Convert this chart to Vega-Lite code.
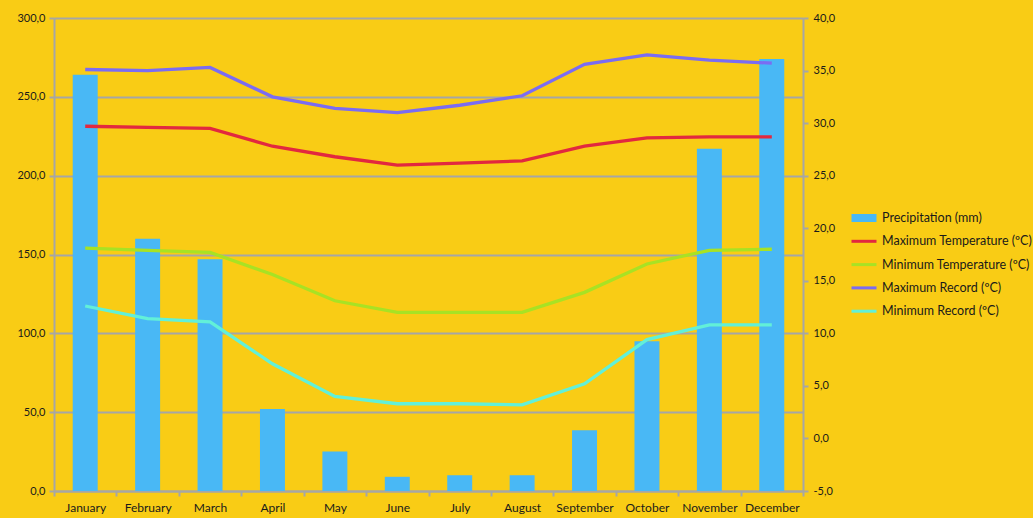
{
  "$schema": "https://vega.github.io/schema/vega-lite/v6.json",
  "width": 749,
  "height": 473,
  "autosize": {"type": "none"},
  "padding": {"left": 54, "top": 18, "right": 230, "bottom": 27},
  "background": "#F9CC15",
  "config": {
    "view": {"stroke": null},
    "font": "Lato",
    "legend": {"title": null},
    "axis": {
      "labelColor": "#1a1a1a",
      "labelFontSize": 11,
      "domainColor": "#A6A6A6",
      "domainWidth": 2,
      "tickColor": "#A6A6A6",
      "tickWidth": 2,
      "tickSize": 5,
      "gridColor": "#A6A6A6",
      "gridWidth": 2,
      "title": null
    }
  },
  "datasets": {
    "precip": [
      {"month": "January", "precip": 264},
      {"month": "February", "precip": 160},
      {"month": "March", "precip": 147},
      {"month": "April", "precip": 52},
      {"month": "May", "precip": 25},
      {"month": "June", "precip": 9},
      {"month": "July", "precip": 10},
      {"month": "August", "precip": 10},
      {"month": "September", "precip": 38.5},
      {"month": "October", "precip": 95},
      {"month": "November", "precip": 217},
      {"month": "December", "precip": 274}
    ],
    "temps": [
      {"month": "January", "series": "Maximum Temperature (ºC)", "temp": 29.7},
      {"month": "February", "series": "Maximum Temperature (ºC)", "temp": 29.6},
      {"month": "March", "series": "Maximum Temperature (ºC)", "temp": 29.5},
      {"month": "April", "series": "Maximum Temperature (ºC)", "temp": 27.8},
      {"month": "May", "series": "Maximum Temperature (ºC)", "temp": 26.8},
      {"month": "June", "series": "Maximum Temperature (ºC)", "temp": 26.0},
      {"month": "July", "series": "Maximum Temperature (ºC)", "temp": 26.2},
      {"month": "August", "series": "Maximum Temperature (ºC)", "temp": 26.4},
      {"month": "September", "series": "Maximum Temperature (ºC)", "temp": 27.8},
      {"month": "October", "series": "Maximum Temperature (ºC)", "temp": 28.6},
      {"month": "November", "series": "Maximum Temperature (ºC)", "temp": 28.7},
      {"month": "December", "series": "Maximum Temperature (ºC)", "temp": 28.7},
      {"month": "January", "series": "Minimum Temperature (ºC)", "temp": 18.1},
      {"month": "February", "series": "Minimum Temperature (ºC)", "temp": 17.9},
      {"month": "March", "series": "Minimum Temperature (ºC)", "temp": 17.7},
      {"month": "April", "series": "Minimum Temperature (ºC)", "temp": 15.6},
      {"month": "May", "series": "Minimum Temperature (ºC)", "temp": 13.1},
      {"month": "June", "series": "Minimum Temperature (ºC)", "temp": 12.0},
      {"month": "July", "series": "Minimum Temperature (ºC)", "temp": 12.0},
      {"month": "August", "series": "Minimum Temperature (ºC)", "temp": 12.0},
      {"month": "September", "series": "Minimum Temperature (ºC)", "temp": 13.9},
      {"month": "October", "series": "Minimum Temperature (ºC)", "temp": 16.6},
      {"month": "November", "series": "Minimum Temperature (ºC)", "temp": 17.9},
      {"month": "December", "series": "Minimum Temperature (ºC)", "temp": 18.0},
      {"month": "January", "series": "Maximum Record (ºC)", "temp": 35.1},
      {"month": "February", "series": "Maximum Record (ºC)", "temp": 35.0},
      {"month": "March", "series": "Maximum Record (ºC)", "temp": 35.3},
      {"month": "April", "series": "Maximum Record (ºC)", "temp": 32.5},
      {"month": "May", "series": "Maximum Record (ºC)", "temp": 31.4},
      {"month": "June", "series": "Maximum Record (ºC)", "temp": 31.0},
      {"month": "July", "series": "Maximum Record (ºC)", "temp": 31.7},
      {"month": "August", "series": "Maximum Record (ºC)", "temp": 32.6},
      {"month": "September", "series": "Maximum Record (ºC)", "temp": 35.6},
      {"month": "October", "series": "Maximum Record (ºC)", "temp": 36.5},
      {"month": "November", "series": "Maximum Record (ºC)", "temp": 36.0},
      {"month": "December", "series": "Maximum Record (ºC)", "temp": 35.7},
      {"month": "January", "series": "Minimum Record (ºC)", "temp": 12.6},
      {"month": "February", "series": "Minimum Record (ºC)", "temp": 11.4},
      {"month": "March", "series": "Minimum Record (ºC)", "temp": 11.1},
      {"month": "April", "series": "Minimum Record (ºC)", "temp": 7.1},
      {"month": "May", "series": "Minimum Record (ºC)", "temp": 4.0},
      {"month": "June", "series": "Minimum Record (ºC)", "temp": 3.3},
      {"month": "July", "series": "Minimum Record (ºC)", "temp": 3.3},
      {"month": "August", "series": "Minimum Record (ºC)", "temp": 3.2},
      {"month": "September", "series": "Minimum Record (ºC)", "temp": 5.2},
      {"month": "October", "series": "Minimum Record (ºC)", "temp": 9.4},
      {"month": "November", "series": "Minimum Record (ºC)", "temp": 10.8},
      {"month": "December", "series": "Minimum Record (ºC)", "temp": 10.8}
    ]
  },
  "encoding": {
    "x": {
      "field": "month",
      "type": "ordinal",
      "sort": ["January", "February", "March", "April", "May", "June", "July", "August", "September", "October", "November", "December"],
      "scale": {"paddingInner": 0, "paddingOuter": 0},
      "axis": {"labelAngle": 0, "tickBand": "extent", "labelPadding": 6, "labelFontSize": 12, "grid": false}
    }
  },
  "layer": [
    {
      "data": {"name": "precip"},
      "mark": {"type": "bar", "width": {"band": 0.4}},
      "encoding": {
        "y": {
          "field": "precip",
          "type": "quantitative",
          "scale": {"domain": [0, 300], "nice": false},
          "axis": {
            "values": [0, 50, 100, 150, 200, 250, 300],
            "labelExpr": "replace(format(datum.value, '.1f'), '.', ',')",
            "grid": true,
            "labelPadding": 4
          }
        },
        "color": {
          "datum": "Precipitation (mm)",
          "type": "nominal",
          "scale": {
            "domain": ["Precipitation (mm)", "Maximum Temperature (ºC)", "Minimum Temperature (ºC)", "Maximum Record (ºC)", "Minimum Record (ºC)"],
            "range": ["#49B8F5", "#E2283F", "#A8E224", "#7B6CF2", "#62F0D8"]
          },
          "legend": {
            "title": null,
            "orient": "none",
            "legendX": 800,
            "legendY": 190,
            "padding": 0,
            "labelFont": "Lato",
            "labelFontSize": 12.5,
            "labelColor": "#1a1a1a",
            "symbolSize": 400,
            "rowPadding": 6.3,
            "labelOffset": 8,
            "encode": {
              "symbols": {
                "update": {
                  "shape": {"signal": "datum.value == 'Precipitation (mm)' ? 'M-1.25,-0.4H1.25V0.4H-1.25Z' : 'M-1.25,-0.15H1.25V0.15H-1.25Z'"},
                  "fill": {"scale": "color", "field": "value"},
                  "fillOpacity": {"value": 1},
                  "strokeWidth": {"value": 0}
                }
              }
            }
          }
        }
      }
    },
    {
      "data": {"name": "temps"},
      "mark": {"type": "line", "strokeWidth": 3.3},
      "encoding": {
        "y": {
          "field": "temp",
          "type": "quantitative",
          "scale": {"domain": [-5, 40], "nice": false},
          "axis": {
            "orient": "right",
            "values": [-5, 0, 5, 10, 15, 20, 25, 30, 35, 40],
            "labelExpr": "replace(replace(format(datum.value, '.1f'), '.', ','), '\u2212', '-')",
            "grid": false,
            "labelPadding": 5
          }
        },
        "color": {"field": "series", "type": "nominal", "legend": {"title": null}}
      }
    }
  ],
  "resolve": {"scale": {"y": "independent"}}
}
